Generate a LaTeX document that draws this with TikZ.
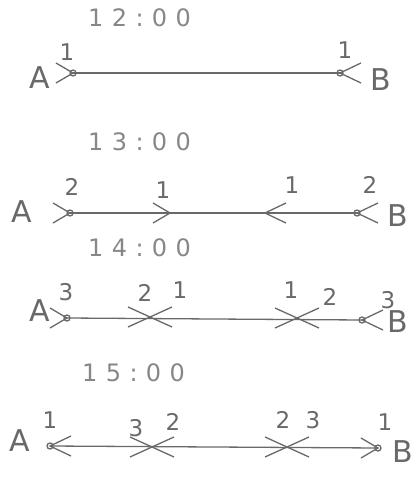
\documentclass[tikz,border=0pt]{standalone}
\usepackage{fontspec}
\newfontfamily\handfont{DejaVu Sans}
\newfontfamily\timefont[LetterSpace=35]{DejaVu Sans}
\usetikzlibrary{positioning}
\definecolor{pencil}{RGB}{105,105,105}
\definecolor{pencillt}{RGB}{135,135,135}
\tikzset{
    % time headings
    timelbl/.style={font=\timefont\fontsize{24}{24}\selectfont, text=pencillt,
                anchor=west, inner sep=0pt},
    % stations and counts
    endlbl/.style={font=\handfont\fontsize{30}{30}\selectfont, text=pencil, inner sep=0pt},
    numlbl/.style={font=\handfont\fontsize{23}{23}\selectfont, text=pencil, inner sep=0pt},
    % track and marks
    track/.style={draw=pencil, line width=1.3pt},
    stn/.style={draw=pencil, line width=1.3pt},
    chevr/.pic={\draw[pencil, line width=1.3pt] (-17,-10) -- (0,0) -- (-17,10);},
    chevl/.pic={\draw[pencil, line width=1.3pt] (21,-10) -- (0,0) -- (21,10);},
    meetx/.pic={\draw[pencil, line width=1.3pt] (-22,-10) -- (0,0) -- (-22,10)
                (22,-10) -- (0,0) -- (22,10);},
}
\begin{document}
\begin{tikzpicture}[x=1pt, y=-1pt]
\useasboundingbox (0,0) rectangle (415,498);

% 12:00
\node[timelbl] (t1) at (88,18) {12:00};
\node[endlbl] (A1) at (40,78) {A};
\node[endlbl] (B1) at (381,80) {B};
\coordinate (a1) at (73,73);
\coordinate (b1) at (340,73);
\draw[track] (a1) -- (b1);
\pic at (a1) {chevr};
\pic at (b1) {chevl};
\draw[stn] (a1) circle (3pt);
\draw[stn] (b1) circle (3pt);
\node[numlbl] at (67,52) {1};
\node[numlbl] at (345,50) {1};

% 13:00
\node[timelbl] (t2) at (88,142) {13:00};
\node[endlbl] (A2) at (22,212) {A};
\node[endlbl] (B2) at (398,216) {B};
\coordinate (a2) at (70,213);
\coordinate (b2) at (357,213);
\draw[track] (a2) -- (b2);
\pic at (a2) {chevr};
\pic at (b2) {chevl};
\pic at (170,213) {chevr};
\pic at (265,213) {chevl};
\draw[stn] (a2) circle (3pt);
\draw[stn] (b2) circle (3pt);
\node[numlbl] at (72,187) {2};
\node[numlbl] at (163,190) {1};
\node[numlbl] at (292,185) {1};
\node[numlbl] at (370,185) {2};

% 14:00
\node[timelbl] (t3) at (88,248) {14:00};
\node[endlbl] (A3) at (40,311) {A};
\node[endlbl] (B3) at (398,322) {B};
\coordinate (a3) at (67,318);
\coordinate (b3) at (362,320);
\draw[track] (a3) -- (b3);
\pic at (a3) {chevr};
\pic at (b3) {chevl};
\pic at (150,317) {meetx};
\pic at (297,318) {meetx};
\draw[stn] (a3) circle (3pt);
\draw[stn] (b3) circle (3pt);
\node[numlbl] at (66,292) {3};
\node[numlbl] at (145,293) {2};
\node[numlbl] at (180,290) {1};
\node[numlbl] at (291,290) {1};
\node[numlbl] at (330,297) {2};
\node[numlbl] at (388,300) {3};

% 15:00
\node[timelbl] (t4) at (82,373) {15:00};
\node[endlbl] (A4) at (20,441) {A};
\node[endlbl] (B4) at (403,452) {B};
\coordinate (a4) at (50,446);
\coordinate (b4) at (378,448);
\draw[track] (a4) -- (b4);
\pic at (a4) {chevl};
\pic at (b4) {chevr};
\pic at (152,447) {meetx};
\pic at (287,447) {meetx};
\draw[stn] (a4) circle (3pt);
\draw[stn] (b4) circle (3pt);
\node[numlbl] at (50,420) {1};
\node[numlbl] at (136,428) {3};
\node[numlbl] at (173,422) {2};
\node[numlbl] at (283,420) {2};
\node[numlbl] at (313,420) {3};
\node[numlbl] at (385,422) {1};
\end{tikzpicture}
\end{document}
